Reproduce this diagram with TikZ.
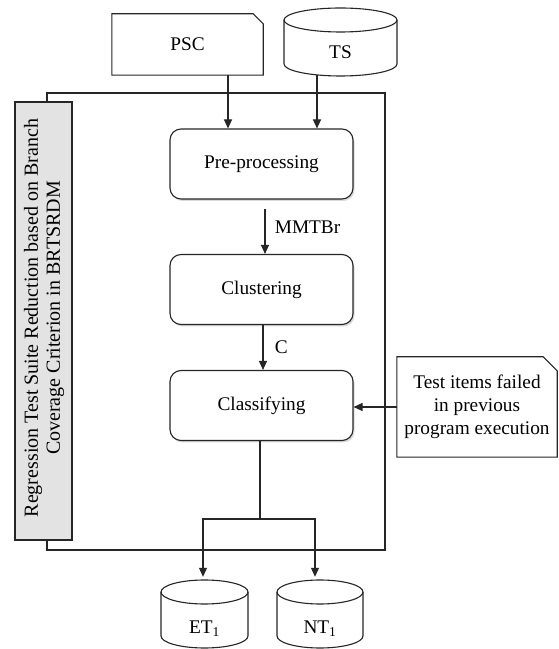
\documentclass[tikz,border=0pt]{standalone}
\usepackage{fontspec}
\setmainfont{Liberation Serif}
\usetikzlibrary{arrows.meta,shadows}

\tikzset{
  line/.style={line width=1.1pt, draw=black!85},
  arr/.style={line, -{Triangle[length=9pt,width=8pt]}},
  stepbox/.style={line, rounded corners=11pt, fill=white,
    minimum width=183pt, minimum height=70pt,
    drop shadow={opacity=0.3, shadow xshift=1.5pt, shadow yshift=-2pt}},
  docbox/.style={inner sep=0pt},
  txt/.style={font=\fontsize{19.3pt}{23pt}\selectfont}
}

% document outline with a clipped upper right corner: node name, cut size
\newcommand{\docoutline}[2]{%
  \draw[line, fill=white] (#1.south west) -- (#1.north west) -- ([xshift=-#2]#1.north east)
     -- ([yshift=-#2]#1.north east) -- (#1.south east) -- cycle;
}

% vertical database drum: name, left x, right x, top y, bottom y, label y, label
\newcommand{\dbdrum}[7]{%
  \pgfmathsetmacro\drx{(#3-#2)/2}%
  \pgfmathsetmacro\dcx{(#3+#2)/2}%
  \pgfmathsetmacro\dcy{(#4+#5)/2}%
  \pgfmathsetmacro\dh{#4-#5}%
  \pgfmathsetmacro\dw{#3-#2}%
  \node[inner sep=0pt, minimum width=\dw pt, minimum height=\dh pt] (#1) at (\dcx,\dcy) {};
  \fill[white] (#2,#4-12) -- (#2,#5+12) arc[start angle=180,end angle=360,x radius=\drx,y radius=12]
     -- (#3,#4-12) arc[start angle=0,end angle=180,x radius=\drx,y radius=12] -- cycle;
  \draw[line] (#2,#4-12) -- (#2,#5+12) arc[start angle=180,end angle=360,x radius=\drx,y radius=12]
     -- (#3,#4-12);
  \draw[line] (\dcx,#4-12) ellipse[x radius=\drx, y radius=12];
  \node[txt] (#1-label) at (\dcx,#6) {#7};
}

\begin{document}
\begin{tikzpicture}[x=1pt,y=1pt]
  \useasboundingbox (0,0) rectangle (558,649);

  % outer frame of the method
  \draw[line] (47,99) rectangle (385,556);
  \node[line, fill=black!11, minimum width=57pt, minimum height=438pt, inner sep=0pt]
    (frame-tag) at (43.5,328) {};
  \node[font=\fontsize{20pt}{22pt}\selectfont, rotate=90, align=center] (frame-title) at (44,331)
    {Regression Test Suite Reduction based on Branch\\Coverage Criterion in BRTSRDM};

  % inputs
  \node[docbox, minimum width=151pt, minimum height=61pt] (psc) at (187.5,604.5) {};
  \docoutline{psc}{10pt}
  \node[txt] (psc-label) at (psc) {PSC};
  \dbdrum{ts}{284}{397}{641}{573}{597}{TS}

  % processing steps
  \node[stepbox, txt] (pre) at (261.5,485) {Pre-processing};
  \node[stepbox, txt] (clu) at (261.5,359.5) {Clustering};
  \node[stepbox, txt] (cls) at (261.5,243.5) {Classifying};

  % side input
  \node[docbox, minimum width=160pt, minimum height=100pt] (fail) at (477,242) {};
  \docoutline{fail}{14pt}
  \node[txt, align=center] (fail-label) at (fail) {Test items failed\\in previous\\program execution};

  % outputs
  \dbdrum{et}{161}{248}{69}{1}{20}{ET\textsubscript{1}}
  \dbdrum{nt}{277}{363}{69}{1}{20}{NT\textsubscript{1}}

  % connectors
  \draw[arr] ([xshift=40.5pt]psc.south) -- ([xshift=40.5pt]psc.south |- pre.north);
  \draw[arr] ([xshift=-23.5pt,yshift=1pt]ts.south) -- ([xshift=-23.5pt]ts.south |- pre.north);
  \draw[arr, shorten <=9pt] ([xshift=3.5pt]pre.south) -- ([xshift=3.5pt]clu.north)
     node[midway, right=6pt, txt] (mmtbr) {MMTBr};
  \draw[arr] ([xshift=1.5pt]clu.south) -- ([xshift=1.5pt]cls.north)
     node[midway, right=8pt, txt] (clabel) {C};
  \draw[arr] (fail.west) -- (cls.east |- fail.west);
  \draw[line] ([xshift=-1.5pt]cls.south) -- ++(0,-78) coordinate (split);
  \draw[arr] (split) -| ([xshift=-1.5pt,yshift=3pt]et.north);
  \draw[arr] (split) -| ([xshift=-5pt,yshift=3pt]nt.north);
\end{tikzpicture}
\end{document}
